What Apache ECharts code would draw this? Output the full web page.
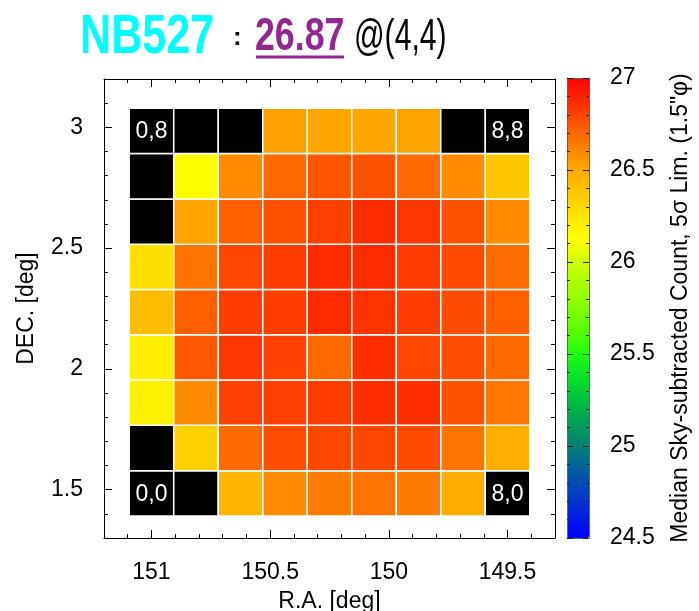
<!DOCTYPE html>
<html>
<head>
<meta charset="utf-8">
<script src="https://cdn.jsdelivr.net/npm/echarts@6/dist/echarts.min.js"></script>
<style>
  html, body { margin: 0; padding: 0; background: #fff; }
  #chart { width: 699px; height: 611px; }
</style>
</head>
<body>
<div id="chart"></div>
<script>
// Tile centres of the 9x9 mosaic (deg): columns run east→west, rows south→north
const raCenters = [151.0, 150.8125, 150.625, 150.4375, 150.25, 150.0625, 149.875, 149.6875, 149.5];
const decCenters = [1.485, 1.6725, 1.86, 2.0475, 2.235, 2.4225, 2.61, 2.7975, 2.985];
const tileSize = 0.1875;

// Median sky-subtracted 5-sigma limiting magnitude per tile (null = no coverage)
const depthRow0 = [null, null, 26.46, 26.59, 26.64, 26.66, 26.64, 26.49, null];
const depthRow1 = [null, 26.34, 26.69, 26.77, 26.79, 26.79, 26.78, 26.66, 26.48];
const depthRow2 = [26.20, 26.59, 26.81, 26.81, 26.82, 26.86, 26.86, 26.76, 26.65];
const depthRow3 = [26.21, 26.74, 26.84, 26.81, 26.69, 26.86, 26.79, 26.77, 26.69];
const depthRow4 = [26.42, 26.72, 26.82, 26.82, 26.87, 26.85, 26.82, 26.78, 26.72];
const depthRow5 = [26.28, 26.66, 26.79, 26.82, 26.87, 26.87, 26.82, 26.78, 26.68];
const depthRow6 = [null, 26.52, 26.72, 26.76, 26.81, 26.87, 26.84, 26.76, 26.59];
const depthRow7 = [null, 26.13, 26.59, 26.69, 26.75, 26.76, 26.69, 26.59, 26.38];
const depthRow8 = [null, null, null, 26.53, 26.51, 26.51, 26.52, null, null];
const depthRows = [depthRow0, depthRow1, depthRow2, depthRow3, depthRow4,
                   depthRow5, depthRow6, depthRow7, depthRow8];

// Tiles whose index is printed inside
const labelledTiles = [[0, 8], [8, 8], [0, 0], [8, 0]];

// Filter and the reference tile quoted in the heading
const bandName = 'NB527';
const refTile = [4, 4];

// Colour scale of the depth bar
const depthMin = 24.5;
const depthMax = 27;
const depthColors = [
  '#0000ff', '#0020e0', '#0040c0', '#0060a0', '#008070', '#00a058', '#00c040',
  '#08e028', '#20ff10', '#55ff00', '#80ff00', '#a8ff00', '#d0ff00', '#ffff00',
  '#ffe600', '#ffc800', '#ffaa00', '#ff8000', '#ff5500', '#ff2a00', '#ff0000'
];

const FONT = '"Liberation Sans", Arial, Helvetica, sans-serif';

const tiles = [];
depthRows.forEach((row, j) => {
  row.forEach((v, i) => {
    tiles.push([raCenters[i], decCenters[j], v === null ? '-' : v, i, j]);
  });
});
const isLabelled = (i, j) => labelledTiles.some(t => t[0] === i && t[1] === j);
const refValue = depthRows[refTile[1]][refTile[0]].toFixed(2);

const chart = echarts.init(document.getElementById('chart'), null, { renderer: 'canvas' });

const mainTick = { show: true, inside: true, length: 8, lineStyle: { color: '#000', width: 1 } };
const mainMinor = { show: true, splitNumber: 5, length: 4, lineStyle: { color: '#000', width: 1 } };
const mainLine = { show: true, onZero: false, lineStyle: { color: '#000', width: 1 } };
const barTick = { show: true, inside: true, length: 6, lineStyle: { color: '#222', width: 1 } };
const barMinor = { show: true, splitNumber: 5, length: 3, lineStyle: { color: '#222', width: 1 } };
const barLine = { show: true, onZero: false, lineStyle: { color: '#666', width: 1 } };

const raAxisBase = {
  type: 'value', gridIndex: 0, min: 149.3, max: 151.2, inverse: true, splitNumber: 4,
  axisLine: mainLine, axisTick: mainTick, minorTick: mainMinor,
  splitLine: { show: false }, minorSplitLine: { show: false }
};
const decAxisBase = {
  type: 'value', gridIndex: 0, min: 1.3, max: 3.2, splitNumber: 4,
  axisLine: mainLine, axisTick: mainTick, minorTick: mainMinor,
  splitLine: { show: false }, minorSplitLine: { show: false }
};

const option = {
  animation: false,
  backgroundColor: '#fff',
  textStyle: { fontFamily: FONT },
  grid: [
    { left: 104, top: 79, width: 451, height: 459, containLabel: false, outerBoundsMode: 'none' },
    { left: 567, top: 78, width: 22, height: 460, containLabel: false, outerBoundsMode: 'none' }
  ],
  xAxis: [
    Object.assign({}, raAxisBase, {
      position: 'bottom',
      name: 'R.A. [deg]', nameLocation: 'middle', nameGap: 52,
      nameTextStyle: { fontSize: 23, color: '#000', fontFamily: FONT },
      axisLabel: { show: true, fontSize: 23, color: '#000', margin: 23,
                   showMinLabel: false, showMaxLabel: false, fontFamily: FONT }
    }),
    Object.assign({}, raAxisBase, { position: 'top', axisLabel: { show: false } }),
    { type: 'value', gridIndex: 1, position: 'bottom', min: 0, max: 1,
      axisLine: barLine, axisTick: { show: false }, axisLabel: { show: false },
      splitLine: { show: false }, z: 10 },
    { type: 'value', gridIndex: 1, position: 'top', min: 0, max: 1,
      axisLine: barLine, axisTick: { show: false }, axisLabel: { show: false },
      splitLine: { show: false }, z: 10 }
  ],
  yAxis: [
    Object.assign({}, decAxisBase, {
      position: 'left',
      name: 'DEC. [deg]', nameLocation: 'middle', nameGap: 66, nameRotate: 90,
      nameTextStyle: { fontSize: 23, color: '#000', fontFamily: FONT },
      axisLabel: { show: true, fontSize: 23, color: '#000', margin: 21,
                   showMinLabel: false, showMaxLabel: false, fontFamily: FONT }
    }),
    Object.assign({}, decAxisBase, { position: 'right', axisLabel: { show: false } }),
    { type: 'value', gridIndex: 1, position: 'left', min: depthMin, max: depthMax, interval: 0.5,
      axisLine: barLine, axisTick: barTick, minorTick: barMinor, axisLabel: { show: false },
      splitLine: { show: false }, z: 10 },
    { type: 'value', gridIndex: 1, position: 'right', min: depthMin, max: depthMax, interval: 0.5,
      axisLine: barLine, axisTick: barTick, minorTick: barMinor,
      axisLabel: { show: true, fontSize: 23, color: '#000', margin: 21, fontFamily: FONT },
      name: 'Median Sky-subtracted Count, 5σ Lim. (1.5"φ)',
      nameLocation: 'middle', nameRotate: 90, nameGap: 80,
      nameTextStyle: { fontSize: 23, color: '#000', fontFamily: FONT },
      splitLine: { show: false }, z: 10 }
  ],
  visualMap: {
    type: 'continuous',
    min: depthMin, max: depthMax,
    dimension: 2, seriesIndex: 0,
    orient: 'vertical',
    left: 567, top: 78,
    itemWidth: 22, itemHeight: 460,
    padding: 0,
    calculable: false,
    hoverLink: false,
    text: null,
    z: 1,
    inRange: { color: depthColors },
    outOfRange: { color: '#000' }
  },
  graphic: [
    { type: 'text', x: 80, y: 38, scaleX: 0.77,
      style: { text: bandName, font: 'bold 56px ' + FONT, fill: '#00ffff',
               textAlign: 'left', textVerticalAlign: 'middle' } },
    { type: 'text', x: 233, y: 38,
      style: { text: ':', font: 'bold 26px ' + FONT, fill: '#000',
               textAlign: 'left', textVerticalAlign: 'middle' } },
    { type: 'text', x: 255, y: 37, scaleX: 0.76,
      style: { text: refValue, font: 'bold 47px ' + FONT, fill: '#92278f',
               textAlign: 'left', textVerticalAlign: 'middle' } },
    { type: 'rect', shape: { x: 256, y: 55.5, width: 88, height: 3 },
      style: { fill: '#92278f' } },
    { type: 'text', x: 354, y: 38, scaleX: 0.67,
      style: { text: '@(' + refTile[0] + ',' + refTile[1] + ')', font: '45px ' + FONT, fill: '#000',
               textAlign: 'left', textVerticalAlign: 'middle' } }
  ],
  series: [{
    type: 'custom',
    coordinateSystem: 'cartesian2d',
    xAxisIndex: 0, yAxisIndex: 0,
    dimensions: ['ra', 'dec', 'depth', 'i', 'j'],
    encode: { x: 0, y: 1 },
    data: tiles,
    renderItem: function (params, api) {
      const ra = api.value(0), dec = api.value(1), v = api.value(2);
      const i = api.value(3), j = api.value(4);
      const half = tileSize / 2;
      const a = api.coord([ra + half, dec + half]);
      const b = api.coord([ra - half, dec - half]);
      const x = Math.min(a[0], b[0]), y = Math.min(a[1], b[1]);
      const w = Math.abs(b[0] - a[0]), h = Math.abs(b[1] - a[1]);
      const empty = (typeof v !== 'number') || isNaN(v);
      const children = [{
        type: 'rect',
        shape: { x: x, y: y, width: w, height: h },
        style: { fill: empty ? '#000' : api.visual('color'), stroke: '#fff', lineWidth: 1.5 }
      }];
      if (isLabelled(i, j)) {
        children.push({
          type: 'text',
          x: x + w / 2, y: y + h / 2 + 1,
          style: { text: i + ',' + j, font: '23px ' + FONT, fill: '#fff',
                   textAlign: 'center', textVerticalAlign: 'middle',
                   align: 'center', verticalAlign: 'middle' }
        });
      }
      return { type: 'group', children: children };
    }
  }]
};

chart.setOption(option);
</script>
</body>
</html>
